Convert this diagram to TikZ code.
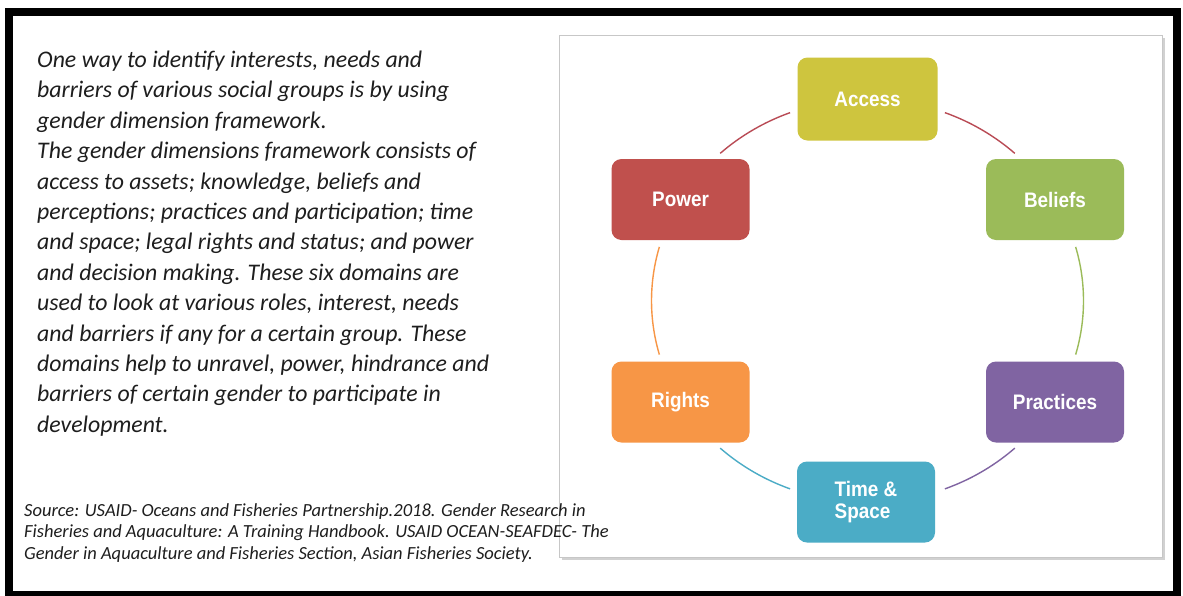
\documentclass[tikz,border=0pt]{standalone}
\usepackage{fontspec}
\setmainfont{Carlito}
\newfontfamily\boxfont[FakeStretch=0.9]{Liberation Sans}
\definecolor{accessc}{RGB}{206,197,62}
\definecolor{beliefsc}{RGB}{155,187,89}
\definecolor{practicesc}{RGB}{128,100,162}
\definecolor{timec}{RGB}{75,172,198}
\definecolor{rightsc}{RGB}{247,150,70}
\definecolor{powerc}{RGB}{192,80,77}
\definecolor{arcred}{RGB}{185,75,85}
\definecolor{textgray}{RGB}{30,30,30}
\begin{document}
\begin{tikzpicture}[x=1pt,y=-1pt,
  box/.style={rounded corners=10pt, minimum width=138pt, minimum height=81pt, inner sep=0pt,
    text=white, font=\boxfont\bfseries\fontsize{21}{22}\selectfont, align=left},
  body/.style={anchor=base west, inner sep=0pt, font=\itshape\fontsize{23.8}{26}\selectfont, text=textgray},
  src/.style={anchor=base west, inner sep=0pt, font=\itshape\fontsize{18.5}{20}\selectfont, text=textgray},
  arcline/.style={line width=1.4pt}]
\useasboundingbox (0,0) rectangle (1183,595);
\fill[white] (0,0) rectangle (1183,595);
% outer frame
\draw[line width=8pt] (9,11.5) rectangle (1177,595);
% panel with shadow
\fill[black!18] (562,38) rectangle (1165,560);
\draw[draw=black!22, fill=white, line width=0.8pt] (559,35) rectangle (1162,557);
% left text
\foreach \t [count=\i] in {
  {One way to identify interests, needs and},
  {barriers of various social groups is by using},
  {gender dimension framework.},
  {The gender dimensions framework consists of},
  {access to assets; knowledge, beliefs and},
  {perceptions; practices and participation; time},
  {and space; legal rights and status; and power},
  {and decision making. These six domains are},
  {used to look at various roles, interest, needs},
  {and barriers if any for a certain group. These},
  {domains help to unravel, power, hindrance and},
  {barriers of certain gender to participate in},
  {development.}}
  \node[body] (line\i) at (37,{67.5+30.4*(\i-1)}) {\t};
\node[src] (src1) at (24,516) {Source: USAID- Oceans and Fisheries Partnership.2018. Gender Research in};
\node[src] (src2) at (24,537.5) {Fisheries and Aquaculture: A Training Handbook. USAID OCEAN-SEAFDEC- The};
\node[src] (src3) at (24,559) {Gender in Aquaculture and Fisheries Section, Asian Fisheries Society.};
% cycle
\coordinate (c) at (867.5,300.75);
\draw[arcline, arcred] plot[domain=133:111, samples=40, smooth] ({867.5+216*cos(\x)},{300.75-201.5*sin(\x)});
\draw[arcline, arcred] plot[domain=69:47, samples=40, smooth] ({867.5+216*cos(\x)},{300.75-201.5*sin(\x)});
\draw[arcline, beliefsc] plot[domain=15.5:-15.5, samples=40, smooth] ({867.5+216*cos(\x)},{300.75-201.5*sin(\x)});
\draw[arcline, practicesc] plot[domain=-47:-69, samples=40, smooth] ({867.5+216*cos(\x)},{300.75-201.5*sin(\x)});
\draw[arcline, timec] plot[domain=-111:-133, samples=40, smooth] ({867.5+216*cos(\x)},{300.75-201.5*sin(\x)});
\draw[arcline, rightsc] plot[domain=195.5:164.5, samples=40, smooth] ({867.5+216*cos(\x)},{300.75-201.5*sin(\x)});
\node[box, fill=accessc, minimum width=140pt, minimum height=83pt] (access) at (867.5,99) {Access};
\node[box, fill=beliefsc] (beliefs) at (1055,199.5) {Beliefs};
\node[box, fill=practicesc] (practices) at (1055,402) {Practices};
\node[box, fill=timec] (time) at (866,502) {Time \&\\Space};
\node[box, fill=rightsc] (rights) at (680.5,402) {Rights};
\node[box, fill=powerc] (power) at (680.5,199.5) {Power};
\end{tikzpicture}
\end{document}
